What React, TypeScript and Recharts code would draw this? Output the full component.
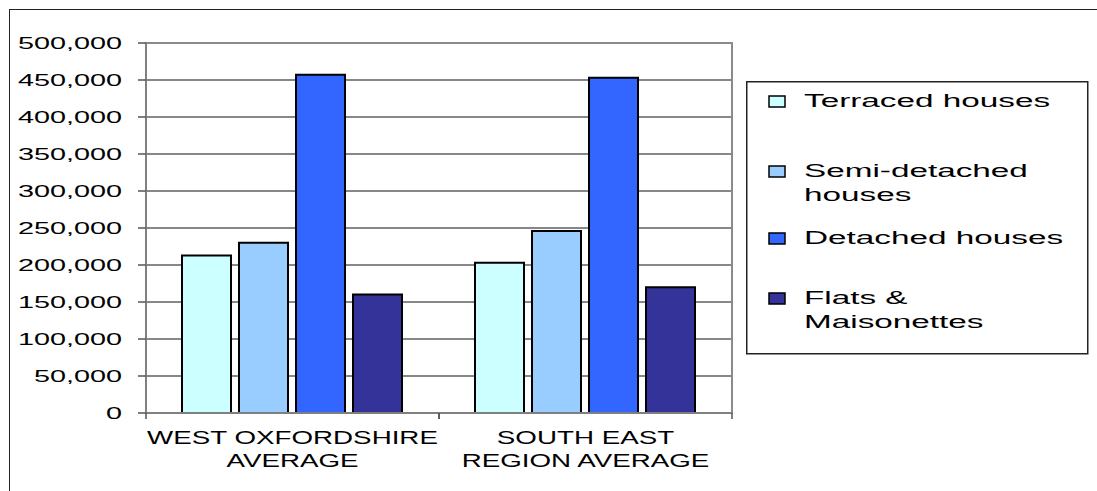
import { BarChart, Bar, XAxis, YAxis, CartesianGrid, Legend, ReferenceArea } from "recharts";

const categories = ["WEST OXFORDSHIRE AVERAGE", "SOUTH EAST REGION AVERAGE"];
const categoryLines = [["WEST OXFORDSHIRE", "AVERAGE"], ["SOUTH EAST", "REGION AVERAGE"]];

const terraced = [213000, 203000];
const semiDetached = [230000, 246000];
const detached = [457000, 453000];
const flats = [160000, 170000];

const yTicks = [0, 50000, 100000, 150000, 200000, 250000, 300000, 350000, 400000, 450000, 500000];

const seriesNames = ["Terraced houses", "Semi-detached houses", "Detached houses", "Flats & Maisonettes"];
const legendLines = [["Terraced houses"], ["Semi-detached", "houses"], ["Detached houses"], ["Flats &", "Maisonettes"]];
const seriesKeys = ["terraced", "semi", "detached", "flats"];
const colors = ["#CCFFFF", "#99CCFF", "#3366FF", "#333399"];

const data = categories.map((c, i) => ({
  category: c,
  terraced: terraced[i],
  semi: semiDetached[i],
  detached: detached[i],
  flats: flats[i],
}));

const FONT = "'Liberation Sans', Arial, sans-serif";
const PLOT_LEFT = 146;
const PLOT_RIGHT = 732;
const halfBand = (PLOT_RIGHT - PLOT_LEFT) / categories.length / 2;

const fmt = (v: number) => v.toLocaleString("en-US");

const YTick = ({ x, y, payload }: any) => (
  <text
    transform={`translate(${x},${y}) scale(1.8,1)`}
    textAnchor="end"
    dy={5.8}
    fontSize={16}
    fontFamily={FONT}
    fill="#000"
  >
    {fmt(payload.value)}
  </text>
);

const XTick = ({ x, y, payload }: any) => {
  const idx = categories.indexOf(payload.value);
  const lines = categoryLines[idx] || [payload.value];
  return (
    <g>
      <line x1={x - halfBand} x2={x - halfBand} y1={y} y2={y + 6} stroke="#555" strokeWidth={1.5} />
      <line x1={x + halfBand} x2={x + halfBand} y1={y} y2={y + 6} stroke="#555" strokeWidth={1.5} />
      {lines.map((l: string, i: number) => (
        <text
          key={i}
          transform={`translate(${x},${y + 31 + i * 23.3}) scale(1.5,1)`}
          textAnchor="middle"
          fontSize={18.5}
          fontFamily={FONT}
          fill="#000"
        >
          {l}
        </text>
      ))}
    </g>
  );
};

// baselines of the first text line of each legend entry, inside the legend box
const legendBaselines = [26, 96, 163, 223];

const CustomLegend = () => (
  <svg width={343} height={274} style={{ display: "block" }}>
    <rect x={0.75} y={0.75} width={341} height={272} fill="#fff" stroke="#222" strokeWidth={1.5} />
    {seriesNames.map((name, i) => (
      <g key={name}>
        <rect x={23} y={legendBaselines[i] - 11} width={16} height={11} fill={colors[i]} stroke="#000" strokeWidth={1.5} />
        {legendLines[i].map((l, j) => (
          <text
            key={j}
            transform={`translate(58,${legendBaselines[i] + j * 24}) scale(1.8,1)`}
            fontSize={18.5}
            fontFamily={FONT}
            fill="#000"
          >
            {l}
          </text>
        ))}
      </g>
    ))}
  </svg>
);

export default function App() {
  return (
    <div style={{ position: "fixed", left: 0, top: 0, width: 1097, height: 491, overflow: "hidden", background: "#fff" }}>
      <div
        style={{
          position: "absolute",
          left: 9,
          top: 9,
          width: 1200,
          height: 600,
          borderLeft: "1.5px solid #222",
          borderTop: "1.5px solid #222",
        }}
      />
      <div style={{ position: "absolute", left: 0, top: 0 }}>
        <BarChart
          width={1097}
          height={491}
          data={data}
          margin={{ top: 43, right: 1097 - PLOT_RIGHT, left: 0, bottom: 18 }}
          barCategoryGap={36}
          barGap={8}
        >
          <CartesianGrid vertical={false} stroke="#111" strokeWidth={1} />
          <XAxis
            dataKey="category"
            height={60}
            tickSize={0}
            tickMargin={0}
            tickLine={false}
            axisLine={{ stroke: "#808080", strokeWidth: 2 }}
            tick={<XTick />}
            interval={0}
          />
          <YAxis
            width={PLOT_LEFT}
            domain={[0, 500000]}
            ticks={yTicks}
            tickSize={8}
            tickMargin={16}
            tickLine={{ stroke: "#555", strokeWidth: 1.5 }}
            axisLine={{ stroke: "#808080", strokeWidth: 2 }}
            tick={<YTick />}
            interval={0}
          />
          <ReferenceArea y1={0} y2={500000} fill="none" fillOpacity={0} stroke="#8a8a8a" strokeWidth={2} ifOverflow="visible" />
          <Legend
            layout="horizontal"
            verticalAlign="middle"
            align="center"
            content={<CustomLegend />}
            wrapperStyle={{ left: 746, top: 81, width: 343, height: 274 }}
          />
          {seriesKeys.map((k, i) => (
            <Bar
              key={k}
              dataKey={k}
              name={seriesNames[i]}
              fill={colors[i]}
              stroke="#000"
              strokeWidth={2}
              isAnimationActive={false}
            />
          ))}
        </BarChart>
      </div>
    </div>
  );
}
